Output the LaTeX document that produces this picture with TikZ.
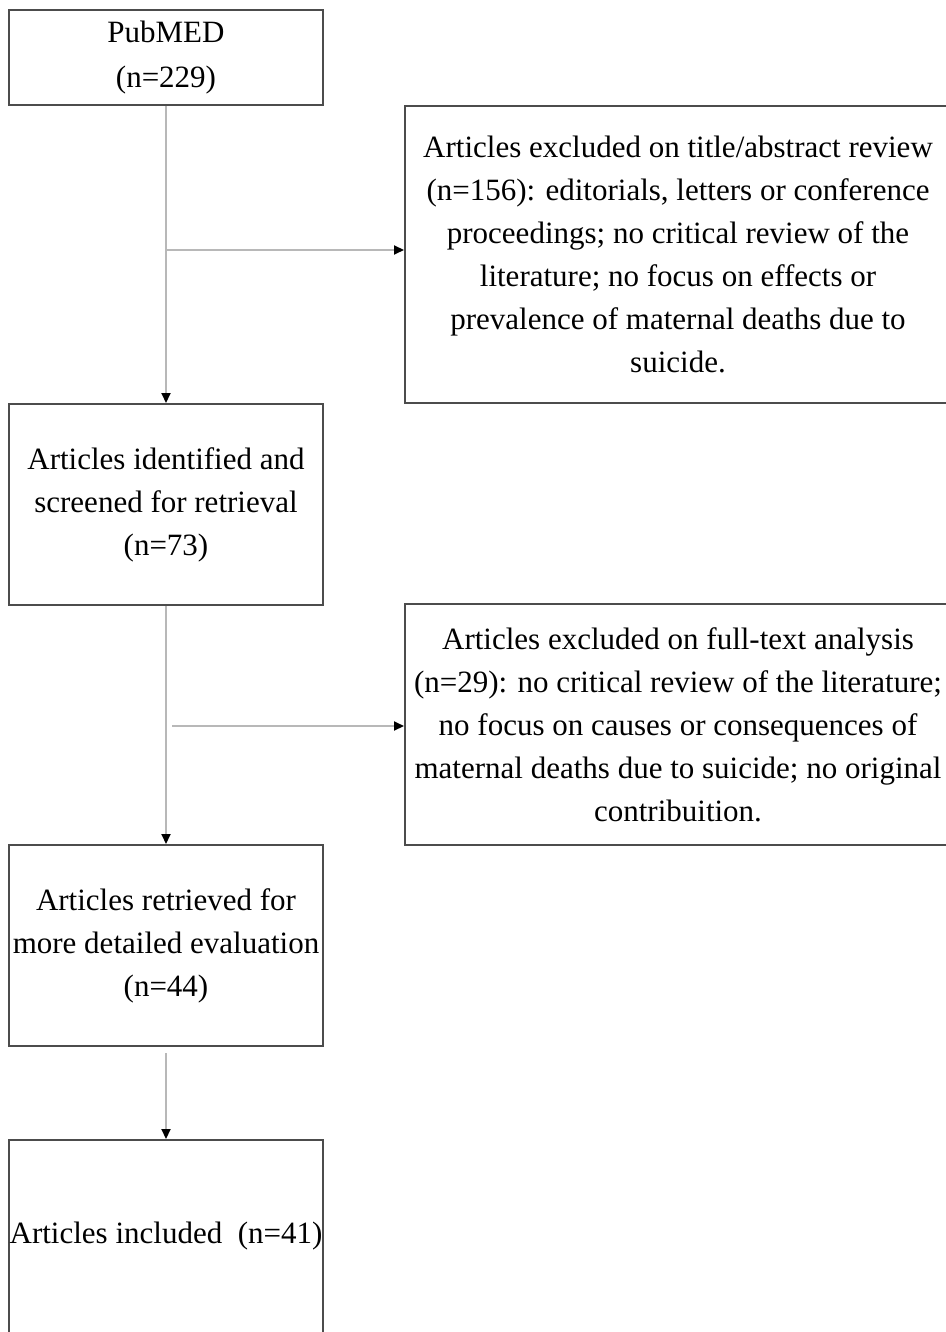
\documentclass[tikz,border=0pt]{standalone}
\usepackage{fontspec}
\setmainfont{Liberation Serif}
\usetikzlibrary{arrows.meta}
\tikzset{>={Triangle[length=10pt,width=9pt,color=black]}}
\tikzset{
  box/.style={draw=black!70, line width=2pt, align=center, inner sep=0pt,
    font=\fontsize{31}{43}\selectfont},
  link/.style={->, draw=black!28, line width=2pt},
}

\begin{document}
\begin{tikzpicture}[x=1pt, y=-1pt]
      \useasboundingbox (0,0) rectangle (945,1332);
      % left column
      \node[box, minimum width=314pt, minimum height=95pt,
        font=\fontsize{31}{45}\selectfont] (pubmed) at (166,57.5) {PubMED\\(n=229)};
      \node[box, minimum width=314pt, minimum height=201pt] (ident) at (166,504.5)
        {Articles identified and\\screened for retrieval\\(n=73)};
      \node[box, minimum width=314pt, minimum height=201pt] (retr) at (166,945.5)
        {Articles retrieved for\\more detailed evaluation\\(n=44)};
      \node[box, minimum width=314pt, minimum height=200pt, text depth=14pt] (incl) at (166,1240)
        {Articles included~~(n=41)};
      % exclusions
      \node[box, minimum width=546pt, minimum height=297pt] (excl1) at (678,254.5)
        {Articles excluded on title/abstract review\\(n=156): editorials, letters or conference\\proceedings; no critical review of the\\literature; no focus on effects or\\prevalence of maternal deaths due to\\suicide.};
      \node[box, minimum width=546pt, minimum height=241pt] (excl2) at (678,724.5)
        {Articles excluded on full-text analysis\\(n=29): no critical review of the literature;\\no focus on causes or consequences of\\maternal deaths due to suicide; no original\\contribuition.};
      % lines
      \coordinate (b1) at (167,250);
      \coordinate (b2) at (172,726);
      \draw[link] (pubmed) -- (ident);
      \draw[link] (b1) -- (b1 -| excl1.west);
      \draw[link] (ident) -- (retr);
      \draw[link] (b2) -- (b2 -| excl2.west);
      \draw[link, shorten <=6pt] (retr) -- (incl);
\end{tikzpicture}
\end{document}
